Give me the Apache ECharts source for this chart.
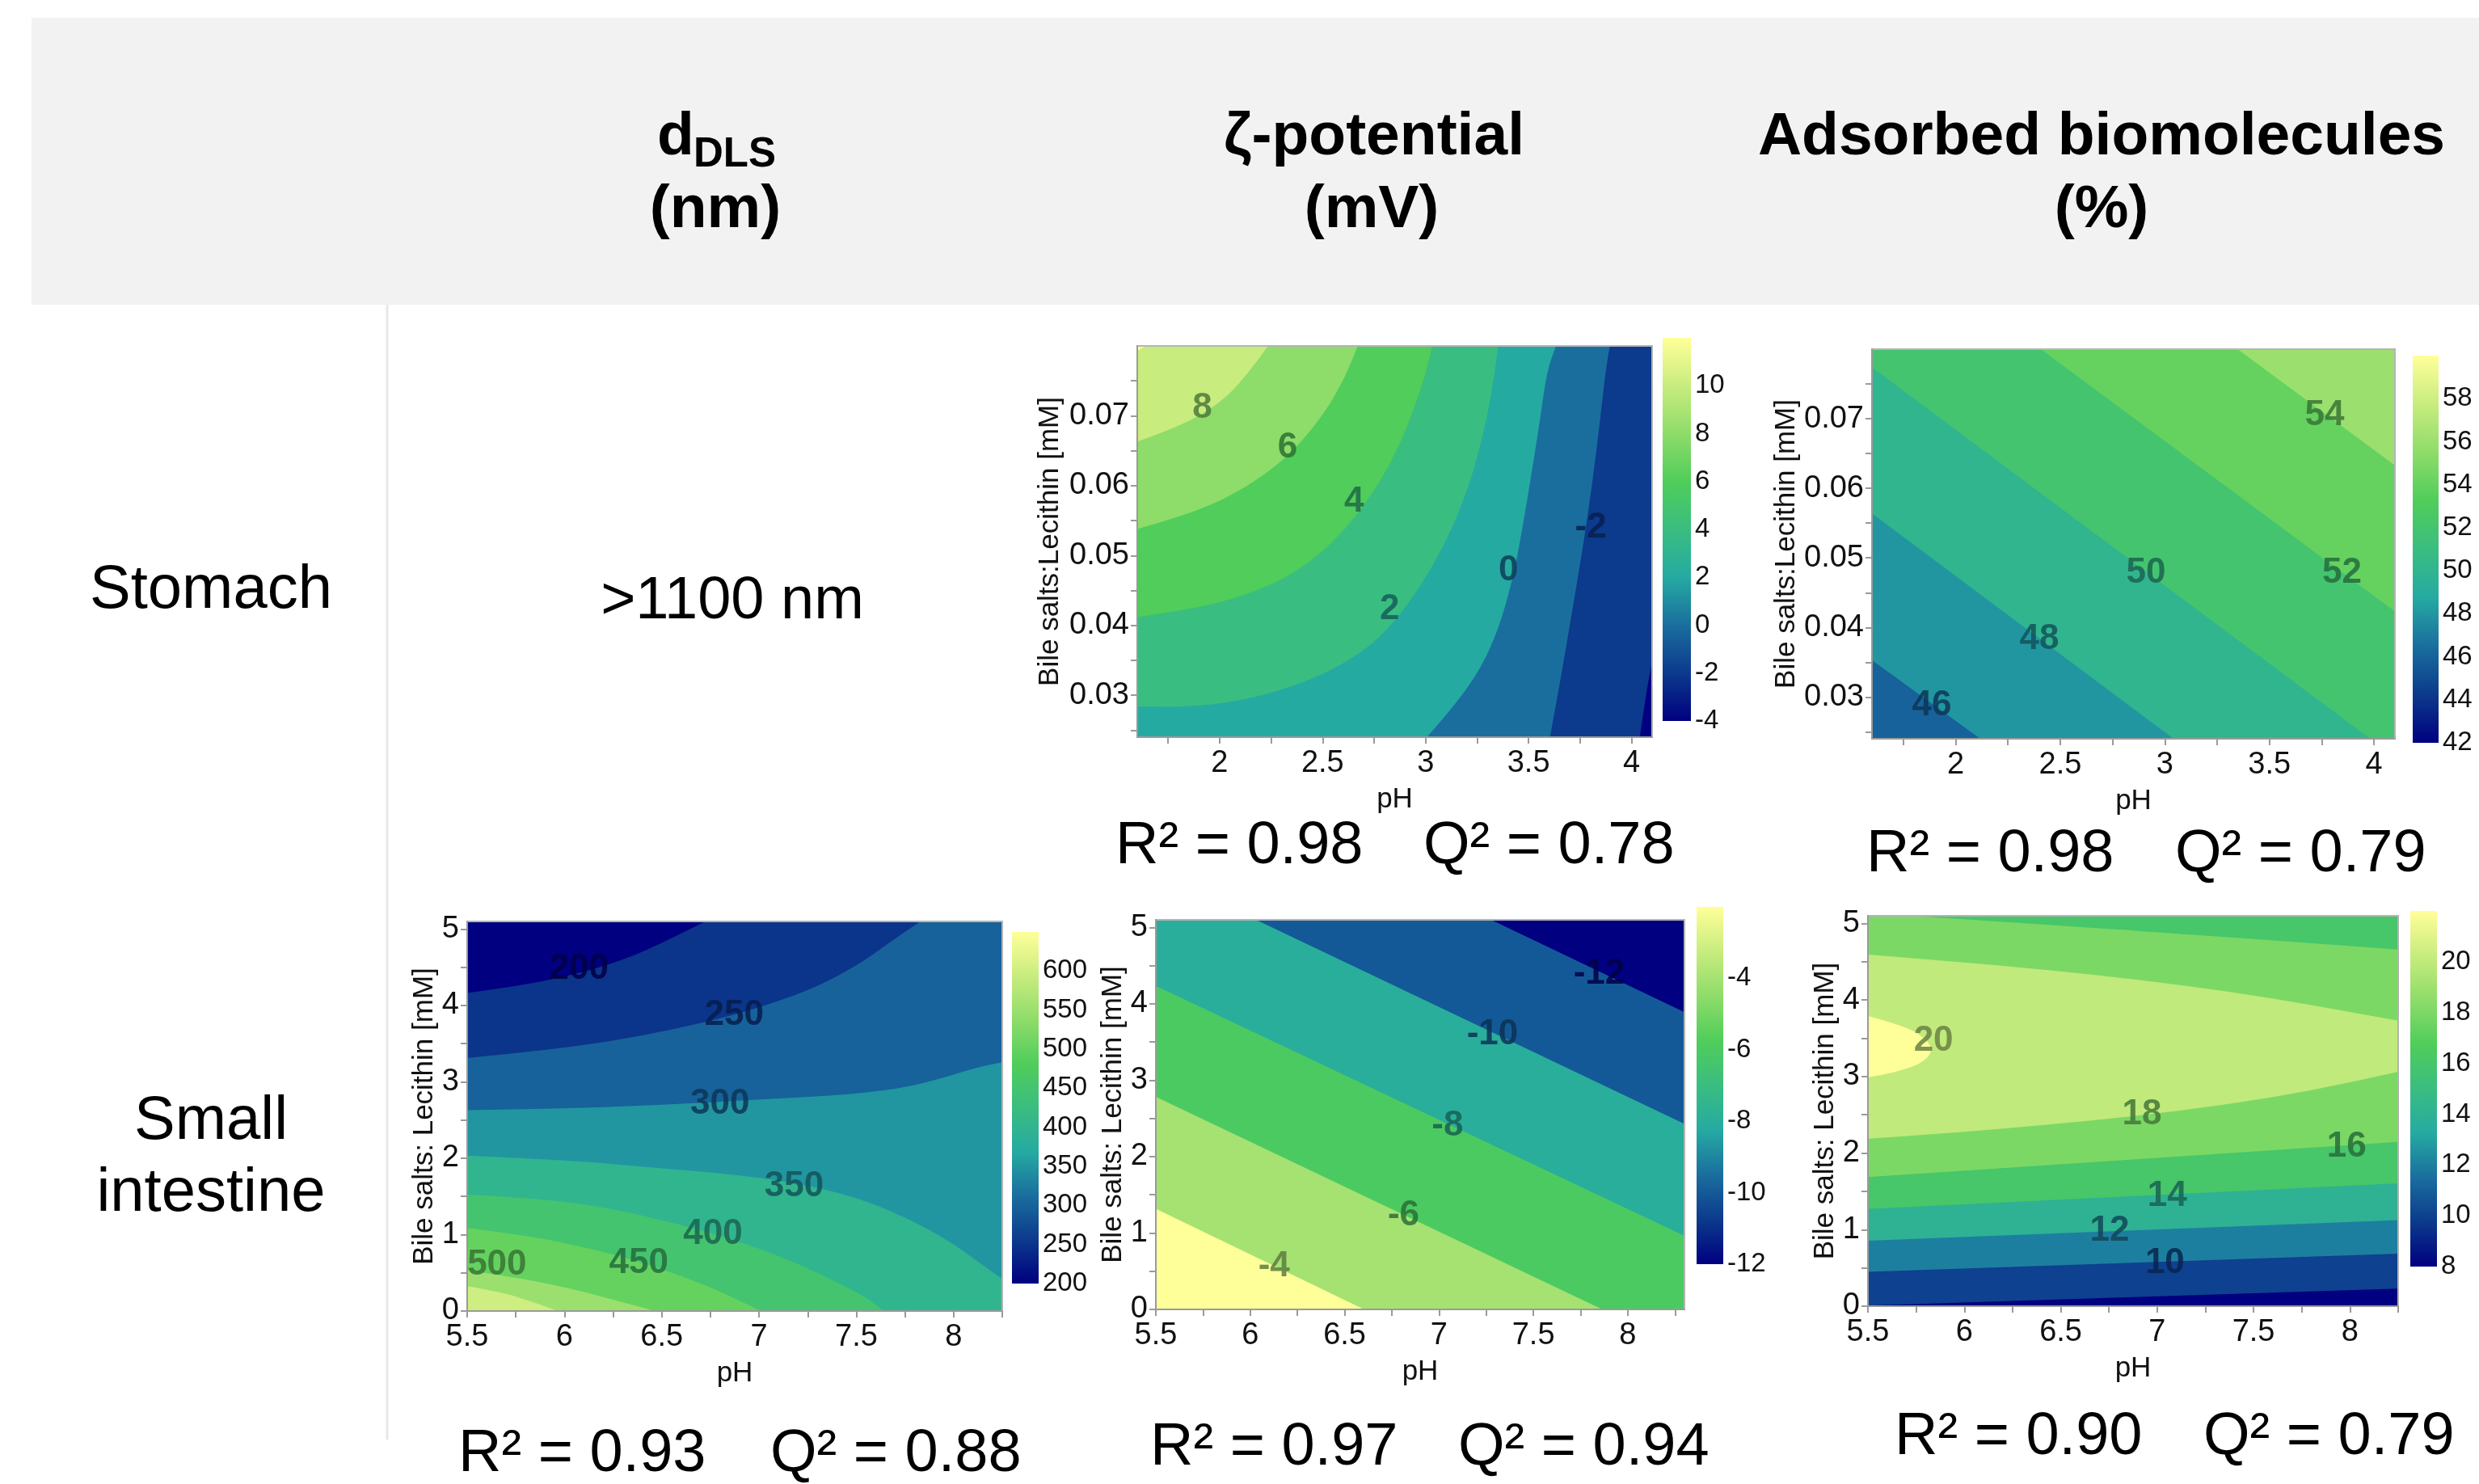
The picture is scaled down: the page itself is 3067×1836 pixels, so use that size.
<!DOCTYPE html>
<html>
<head>
<meta charset="utf-8">
<script src="https://cdn.jsdelivr.net/npm/echarts@6.0.0/dist/echarts.min.js"></script>
<style>
html, body { margin: 0; padding: 0; background: #fff; }
#chart { width: 3067px; height: 1836px; }
</style>
</head>
<body>
<div id="chart"></div>
<script>
// colour map used by the contour plots and colour bars (navy -> teal -> green -> pale yellow)
const cmapStops = ['#000080', '#0c3a8c', '#1a6e9e', '#25aaa2', '#3abd80', '#50cd5a', '#8edc6a', '#c8ec7e', '#ffff99'];

// tick values
const stomXLabels = [2, 2.5, 3, 3.5, 4];
const stomXTicks = [1.75, 2, 2.25, 2.5, 2.75, 3, 3.25, 3.5, 3.75, 4];
const stomYLabels = [0.03, 0.04, 0.05, 0.06, 0.07];
const stomYTicks = [0.025, 0.03, 0.035, 0.04, 0.045, 0.05, 0.055, 0.06, 0.065, 0.07, 0.075];
const intXLabels = [5.5, 6, 6.5, 7, 7.5, 8];
const intXTicks = [5.5, 5.75, 6, 6.25, 6.5, 6.75, 7, 7.25, 7.5, 7.75, 8, 8.25];
const intYLabels = [0, 1, 2, 3, 4, 5];
const intYTicks = [0, 0.5, 1, 1.5, 2, 2.5, 3, 3.5, 4, 4.5, 5];

// contour lines are point lists (pH, ratio); null splits a line into separately smoothed pieces

// ---- Stomach, zeta-potential (mV) ----
const zsLevels = [-4, -2, 0, 2, 4, 6, 8, 10];
const zsLines = [
  [[4.04, 0.024], [4.073, 0.0307], [4.1, 0.0348]],
  [[3.604, 0.024], [3.66, 0.033], [3.712, 0.0421], [3.765, 0.0513], [3.81, 0.0604], [3.848, 0.0695], [3.874, 0.0764], [3.895, 0.08]],
  [[3.006, 0.024], [3.138, 0.0284], [3.27, 0.0339], [3.358, 0.0398], [3.424, 0.0467], [3.468, 0.0535], [3.512, 0.0613], [3.556, 0.0695], [3.589, 0.0764], [3.633, 0.08]],
  [[1.6, 0.0284], [1.795, 0.0282], [2.125, 0.0292], [2.455, 0.0322], [2.7, 0.0362], [2.85, 0.0405], [2.98, 0.0458], [3.1, 0.052], [3.2, 0.059], [3.27, 0.066], [3.32, 0.073], [3.353, 0.08]],
  [[1.6, 0.0412], [1.905, 0.0424], [2.235, 0.0454], [2.45, 0.0492], [2.62, 0.054], [2.76, 0.0596], [2.87, 0.0655], [2.95, 0.0715], [3.0, 0.076], [3.032, 0.08]],
  [[1.6, 0.0538], [1.795, 0.0554], [2.015, 0.0579], [2.235, 0.0618], [2.389, 0.0659], [2.521, 0.0709], [2.609, 0.0755], [2.671, 0.08]],
  [[1.6, 0.0663], [1.751, 0.0679], [1.905, 0.07], [2.037, 0.0727], [2.147, 0.0764], [2.235, 0.08]],
  [[1.6, 0.0793], [1.64, 0.08]]
];
const zsClose = [['tr', 'tl', 'bl'], ['tl', 'bl'], ['tl', 'bl'], ['tl'], ['tl'], ['tl'], ['tl'], ['tl']];
const zsLabels = [[1.916, 0.0711, '8'], [2.33, 0.0654, '6'], [2.653, 0.0577, '4'], [2.825, 0.0423, '2'], [3.402, 0.0478, '0'], [3.802, 0.054, '-2']];
const zsRange = [-4, 12];
const zsCbTicks = [-4, -2, 0, 2, 4, 6, 8, 10];

// ---- Stomach, adsorbed biomolecules (%) ----
const asLevels = [46, 48, 50, 52, 54];
const asLines = [
  [[1.6, 0.0353], [2.118, 0.024]],
  [[1.6, 0.0564], [3.042, 0.024]],
  [[1.6, 0.0774], [3.982, 0.024]],
  [[2.407, 0.08], [4.1, 0.0423]],
  [[3.348, 0.08], [4.1, 0.0633]]
];
const asClose = [['br', 'tr', 'tl'], ['br', 'tr', 'tl'], ['br', 'tr', 'tl'], ['tr'], ['tr']];
const asLabels = [[1.886, 0.0288, '46'], [2.4, 0.0383, '48'], [2.91, 0.0478, '50'], [3.847, 0.0478, '52'], [3.764, 0.0705, '54']];
const asRange = [42, 60];
const asCbTicks = [42, 44, 46, 48, 50, 52, 54, 56, 58];

// ---- Small intestine, dDLS (nm) ----
const dlLevels = [200, 250, 300, 350, 400, 450, 500, 550];
const dlLines = [
  [[5.5, 4.163], [5.778, 4.259], [6.052, 4.405], [6.302, 4.593], [6.507, 4.823], [6.724, 5.1]],
  [[5.5, 3.311], [5.892, 3.411], [6.234, 3.528], [6.576, 3.695], [6.918, 3.904], [7.259, 4.196], [7.51, 4.53], [7.67, 4.823], [7.829, 5.1]],
  [[5.5, 2.63], [6.006, 2.651], [6.462, 2.693], [6.917, 2.756], [7.373, 2.818], [7.715, 2.902], [7.943, 3.048], [8.125, 3.194], [8.25, 3.257]],
  [[5.5, 2.033], [6.006, 1.975], [6.462, 1.879], [6.917, 1.775], [7.259, 1.649], [7.556, 1.441], [7.784, 1.19], [7.989, 0.898], [8.148, 0.605], [8.25, 0.418]],
  [[5.5, 1.524], [5.9, 1.47], [6.25, 1.34], [6.5, 1.19], [6.76, 1.02], [7.0, 0.82], [7.2, 0.62], [7.4, 0.38], [7.55, 0.18], [7.642, 0]],
  [[5.5, 1.086], [5.8, 0.99], [6.1, 0.84], [6.38, 0.65], [6.6, 0.46], [6.8, 0.26], [7.009, 0]],
  [[5.5, 0.532], [5.744, 0.444], [6.021, 0.303], [6.229, 0.162], [6.465, 0]],
  [[5.5, 0.325], [5.675, 0.247], [5.813, 0.141], [5.965, 0]]
];
const dlClose = [['tr', 'br', 'bl'], ['tr', 'br', 'bl'], ['br', 'bl'], ['br', 'bl'], ['bl'], ['bl'], ['bl'], ['bl']];
const dlLabels = [[6.074, 4.48, '200'], [6.872, 3.871, '250'], [6.799, 2.714, '300'], [7.18, 1.628, '350'], [6.763, 1.002, '400'], [6.382, 0.626, '450'], [5.653, 0.605, '500']];
const dlRange = [200, 650];
const dlCbTicks = [200, 250, 300, 350, 400, 450, 500, 550, 600];

// ---- Small intestine, zeta-potential (mV) ----
const ziLevels = [-12, -10, -8, -6, -4];
const ziLines = [
  [[7.276, 5.1], [8.3, 3.891]],
  [[6.031, 5.1], [8.3, 2.427]],
  [[5.5, 4.234], [8.3, 0.962]],
  [[5.5, 2.782], [7.865, 0]],
  [[5.5, 1.318], [6.603, 0]]
];
const ziClose = [['br', 'bl', 'tl'], ['br', 'bl', 'tl'], ['br', 'bl'], ['bl'], ['bl']];
const ziLabels = [[7.848, 4.393, '-12'], [7.283, 3.598, '-10'], [7.045, 2.406, '-8'], [6.812, 1.234, '-6'], [6.126, 0.565, '-4']];
const ziRange = [-12, -2];
const ziCbTicks = [-12, -10, -8, -6, -4];

// ---- Small intestine, adsorbed biomolecules (%) ----
const aiLevels = [8, 10, 12, 14, 16, 18, 20];
const aiLines = [
  [[5.5, 0.008], [8.25, 0.229]],
  [[5.5, 0.45], [8.25, 0.6875]],
  [[5.5, 0.854], [8.25, 1.125]],
  [[5.5, 1.271], [8.25, 1.604]],
  [[5.5, 1.6875], [8.25, 2.146], null, [8.25, 4.66], [7.0, 4.89], [5.72, 5.1]],
  [[5.5, 2.1875], [5.96, 2.271], [6.42, 2.367], [6.879, 2.479], [7.339, 2.625], [7.799, 2.8125], [8.25, 3.0625], null,
   [8.25, 3.729], [7.799, 3.9375], [7.339, 4.125], [6.879, 4.271], [6.42, 4.396], [5.96, 4.5], [5.5, 4.592]],
  [[5.5, 3.79], [5.684, 3.667], [5.799, 3.5], [5.84, 3.333], [5.776, 3.167], [5.638, 3.05], [5.5, 2.99]]
];
const aiClose = [['tr', 'tl'], ['tr', 'tl'], ['tr', 'tl'], ['tr', 'tl'], ['tl'], [], []];
const aiLabels = [[5.84, 3.467, '20'], [6.921, 2.5, '18'], [7.983, 2.083, '16'], [7.052, 1.4375, '14'], [6.753, 0.979, '12'], [7.04, 0.5625, '10']];
const aiRange = [8, 22];
const aiCbTicks = [8, 10, 12, 14, 16, 18, 20];

const FONT = '"Liberation Sans", Arial, Helvetica, sans-serif';

const plots = [
  { lv: zsLevels, ln: zsLines, cl: zsClose, lb: zsLabels, rg: zsRange, cbt: zsCbTicks,
    xr: [1.6, 4.1], yr: [0.024, 0.08], xt: stomXTicks, xl: stomXLabels, yt: stomYTicks, yl: stomYLabels,
    yName: 'Bile salts:Lecithin [mM]', yGap: 90, box: [1407, 428, 637, 484], cb: [2057, 418, 35, 474] },
  { lv: asLevels, ln: asLines, cl: asClose, lb: asLabels, rg: asRange, cbt: asCbTicks,
    xr: [1.6, 4.1], yr: [0.024, 0.08], xt: stomXTicks, xl: stomXLabels, yt: stomYTicks, yl: stomYLabels,
    yName: 'Bile salts:Lecithin [mM]', yGap: 84, box: [2316, 432, 647, 482], cb: [2985, 440, 32, 479] },
  { lv: dlLevels, ln: dlLines, cl: dlClose, lb: dlLabels, rg: dlRange, cbt: dlCbTicks,
    xr: [5.5, 8.25], yr: [0, 5.1], xt: intXTicks, xl: intXLabels, yt: intYTicks, yl: intYLabels,
    yName: 'Bile salts: Lecithin [mM]', yGap: 32, box: [578, 1140, 662, 482], cb: [1252, 1153, 33, 435] },
  { lv: ziLevels, ln: ziLines, cl: ziClose, lb: ziLabels, rg: ziRange, cbt: ziCbTicks,
    xr: [5.5, 8.3], yr: [0, 5.1], xt: intXTicks, xl: intXLabels, yt: intYTicks, yl: intYLabels,
    yName: 'Bile salts: Lecithin [mM]', yGap: 30, box: [1430, 1138, 654, 482], cb: [2099, 1122, 33, 442] },
  { lv: aiLevels, ln: aiLines, cl: aiClose, lb: aiLabels, rg: aiRange, cbt: aiCbTicks,
    xr: [5.5, 8.25], yr: [0, 5.1], xt: intXTicks, xl: intXLabels, yt: intYTicks, yl: intYLabels,
    yName: 'Bile salts: Lecithin [mM]', yGap: 32, box: [2311, 1133, 656, 483], cb: [2982, 1127, 33, 440] }
];

function hexRgb(h) {
  return [parseInt(h.slice(1, 3), 16), parseInt(h.slice(3, 5), 16), parseInt(h.slice(5, 7), 16)];
}
function cmapRgb(t) {
  t = Math.max(0, Math.min(1, t));
  const n = cmapStops.length - 1;
  const f = t * n;
  const i = Math.min(n - 1, Math.floor(f));
  const u = f - i;
  const a = hexRgb(cmapStops[i]), b = hexRgb(cmapStops[i + 1]);
  return a.map((v, j) => Math.round(v + (b[j] - v) * u));
}
function rgbStr(c) { return 'rgb(' + c.join(',') + ')'; }

function corner(p, c) {
  return { tl: [p.xr[0], p.yr[1]], tr: [p.xr[1], p.yr[1]], br: [p.xr[1], p.yr[0]], bl: [p.xr[0], p.yr[0]] }[c];
}
function bandColor(p, k) {
  const step = p.lv[1] - p.lv[0];
  const upper = k === 0 ? p.lv[0] : p.lv[k - 1] + step;
  return rgbStr(cmapRgb((upper - p.rg[0]) / (p.rg[1] - p.rg[0])));
}
const f2 = v => v.toFixed(2);
// svg path of one band: smoothed contour pieces, straight joins, then the plot corners
function bandPath(p, k, api) {
  let pieces, corners;
  if (k === 0) { pieces = []; corners = ['bl', 'br', 'tr', 'tl']; }
  else {
    pieces = [[]];
    p.ln[k - 1].forEach(pt => { if (pt === null) pieces.push([]); else pieces[pieces.length - 1].push(api.coord(pt)); });
    corners = p.cl[k - 1];
  }
  let d = '', started = false;
  const go = q => { d += (started ? 'L' : 'M') + f2(q[0]) + ',' + f2(q[1]); started = true; };
  pieces.forEach(seg => {
    go(seg[0]);
    for (let i = 1; i < seg.length - 1; i++) {
      const m = [(seg[i][0] + seg[i + 1][0]) / 2, (seg[i][1] + seg[i + 1][1]) / 2];
      d += 'Q' + f2(seg[i][0]) + ',' + f2(seg[i][1]) + ' ' + f2(m[0]) + ',' + f2(m[1]);
    }
    if (seg.length > 1) d += 'L' + f2(seg[seg.length - 1][0]) + ',' + f2(seg[seg.length - 1][1]);
  });
  corners.forEach(c => go(api.coord(corner(p, c))));
  return d + 'Z';
}

const grids = [], xAxes = [], yAxes = [], series = [];
const axisGray = '#9a9a9a';

plots.forEach((p, i) => {
  const gi = 2 * i, ci = 2 * i + 1;
  grids.push({ left: p.box[0], top: p.box[1], width: p.box[2], height: p.box[3], containLabel: false, outerBoundsMode: 'none' });
  grids.push({ left: p.cb[0], top: p.cb[1], width: p.cb[2], height: p.cb[3], containLabel: false, outerBoundsMode: 'none' });

  xAxes.push({
    gridIndex: gi, type: 'value', min: p.xr[0], max: p.xr[1], z: 5,
    name: 'pH', nameLocation: 'middle', nameGap: 60,
    nameTextStyle: { fontSize: 35, color: '#111', fontFamily: FONT },
    axisLine: { show: true, lineStyle: { color: axisGray, width: 2 } },
    axisTick: { show: true, customValues: p.xt, length: 8, lineStyle: { color: axisGray, width: 2 } },
    axisLabel: { customValues: p.xl, fontSize: 38, color: '#111', margin: 14, fontFamily: FONT },
    splitLine: { show: false }
  });
  yAxes.push({
    gridIndex: gi, type: 'value', min: p.yr[0], max: p.yr[1], z: 5,
    name: p.yName, nameLocation: 'middle', nameGap: p.yGap, nameRotate: 90,
    nameTextStyle: { fontSize: 35, color: '#111', fontFamily: FONT },
    axisLine: { show: true, lineStyle: { color: axisGray, width: 2 } },
    axisTick: { show: true, customValues: p.yt, length: 8, lineStyle: { color: axisGray, width: 2 } },
    axisLabel: { customValues: p.yl, fontSize: 38, color: '#111', margin: 10, fontFamily: FONT },
    splitLine: { show: false }
  });
  xAxes.push({ gridIndex: ci, type: 'value', min: 0, max: 1, show: false });
  yAxes.push({
    gridIndex: ci, type: 'value', min: p.rg[0], max: p.rg[1], position: 'right',
    axisLine: { show: false }, axisTick: { show: false }, splitLine: { show: false },
    axisLabel: { customValues: p.cbt, fontSize: 33, color: '#111', margin: 5, fontFamily: FONT }
  });

  // filled contour bands (painted from the lowest level upwards)
  series.push({
    type: 'custom', xAxisIndex: gi, yAxisIndex: gi, clip: true, silent: true, z: 2,
    data: [p.lv[0]].concat(p.lv).map(() => [p.xr[0], p.yr[0]]),
    renderItem: (params, api) => ({
      type: 'path',
      shape: { pathData: bandPath(p, params.dataIndex, api) },
      style: { fill: bandColor(p, params.dataIndex), stroke: null }
    })
  });
  // plot frame
  series.push({
    type: 'custom', xAxisIndex: gi, yAxisIndex: gi, silent: true, z: 3,
    data: [[p.xr[0], p.yr[0]]],
    renderItem: (params, api) => {
      const a = api.coord([p.xr[0], p.yr[0]]), b = api.coord([p.xr[1], p.yr[1]]);
      return { type: 'rect', shape: { x: a[0], y: b[1], width: b[0] - a[0], height: a[1] - b[1] },
               style: { fill: null, stroke: '#b4b4b4', lineWidth: 2 } };
    }
  });
  // contour labels
  series.push({
    type: 'custom', xAxisIndex: gi, yAxisIndex: gi, silent: true, z: 4,
    data: p.lb.map(l => [l[0], l[1]]),
    renderItem: (params, api) => {
      const l = p.lb[params.dataIndex];
      const c = cmapRgb((Number(l[2]) - p.rg[0]) / (p.rg[1] - p.rg[0])).map(v => Math.round(v * 0.55));
      const pt = api.coord([l[0], l[1]]);
      return {
        type: 'text', x: pt[0], y: pt[1],
        style: { text: l[2], fill: rgbStr(c), opacity: 0.85, font: 'bold 44px ' + FONT,
                 align: 'center', verticalAlign: 'middle', textAlign: 'center', textVerticalAlign: 'middle' }
      };
    }
  });
  // colour bar
  series.push({
    type: 'custom', xAxisIndex: ci, yAxisIndex: ci, silent: true,
    data: [[0, p.rg[0]]],
    renderItem: (params, api) => {
      const a = api.coord([0, p.rg[0]]), b = api.coord([1, p.rg[1]]);
      const stops = cmapStops.map((c, j) => ({ offset: j / (cmapStops.length - 1), color: c }));
      return { type: 'rect', shape: { x: a[0], y: b[1], width: b[0] - a[0], height: a[1] - b[1] },
               style: { fill: new echarts.graphic.LinearGradient(0, 1, 0, 0, stops) } };
    }
  });
});

function txt(x, y, text, size, bold, align) {
  return {
    type: 'text', x: x, y: y, silent: true,
    style: { text: text, fill: '#000', font: (bold ? 'bold ' : '') + size + 'px ' + FONT,
             align: align || 'center', verticalAlign: 'middle',
             textAlign: align || 'center', textVerticalAlign: 'middle' }
  };
}

const fitText = [
  ['R² = 0.98', 1380, 'Q² = 0.78', 1761, 1048],
  ['R² = 0.98', 2309, 'Q² = 0.79', 2691, 1058],
  ['R² = 0.93', 567, 'Q² = 0.88', 953, 1800],
  ['R² = 0.97', 1423, 'Q² = 0.94', 1804, 1792],
  ['R² = 0.90', 2344, 'Q² = 0.79', 2726, 1779]
];

const graphic = [
  { type: 'rect', shape: { x: 39, y: 22, width: 3028, height: 355 }, style: { fill: '#f2f2f2' }, silent: true, z: -1 },
  { type: 'line', shape: { x1: 479, y1: 377, x2: 479, y2: 1781 }, style: { stroke: '#e8e8e8', lineWidth: 3 }, silent: true },
  txt(813, 170, 'd', 75, true, 'left'),
  txt(858, 192, 'DLS', 51, true, 'left'),
  txt(885, 260, '(nm)', 75, true),
  txt(1700, 170, 'ζ-potential', 75, true),
  txt(1697, 260, '(mV)', 75, true),
  txt(2600, 170, 'Adsorbed biomolecules', 75, true),
  txt(2600, 260, '(%)', 75, true),
  txt(261, 731, 'Stomach', 76, false),
  txt(906, 745, '>1100 nm', 74, false),
  txt(261, 1388, 'Small', 76, false),
  txt(261, 1477, 'intestine', 76, false)
];
fitText.forEach(f => {
  graphic.push(txt(f[1], f[4], f[0], 74, false, 'left'));
  graphic.push(txt(f[3], f[4], f[2], 74, false, 'left'));
});

const chart = echarts.init(document.getElementById('chart'), null, { renderer: 'canvas' });
chart.setOption({
  animation: false,
  backgroundColor: '#ffffff',
  textStyle: { fontFamily: FONT },
  grid: grids,
  xAxis: xAxes,
  yAxis: yAxes,
  series: series,
  graphic: graphic
});
</script>
</body>
</html>
